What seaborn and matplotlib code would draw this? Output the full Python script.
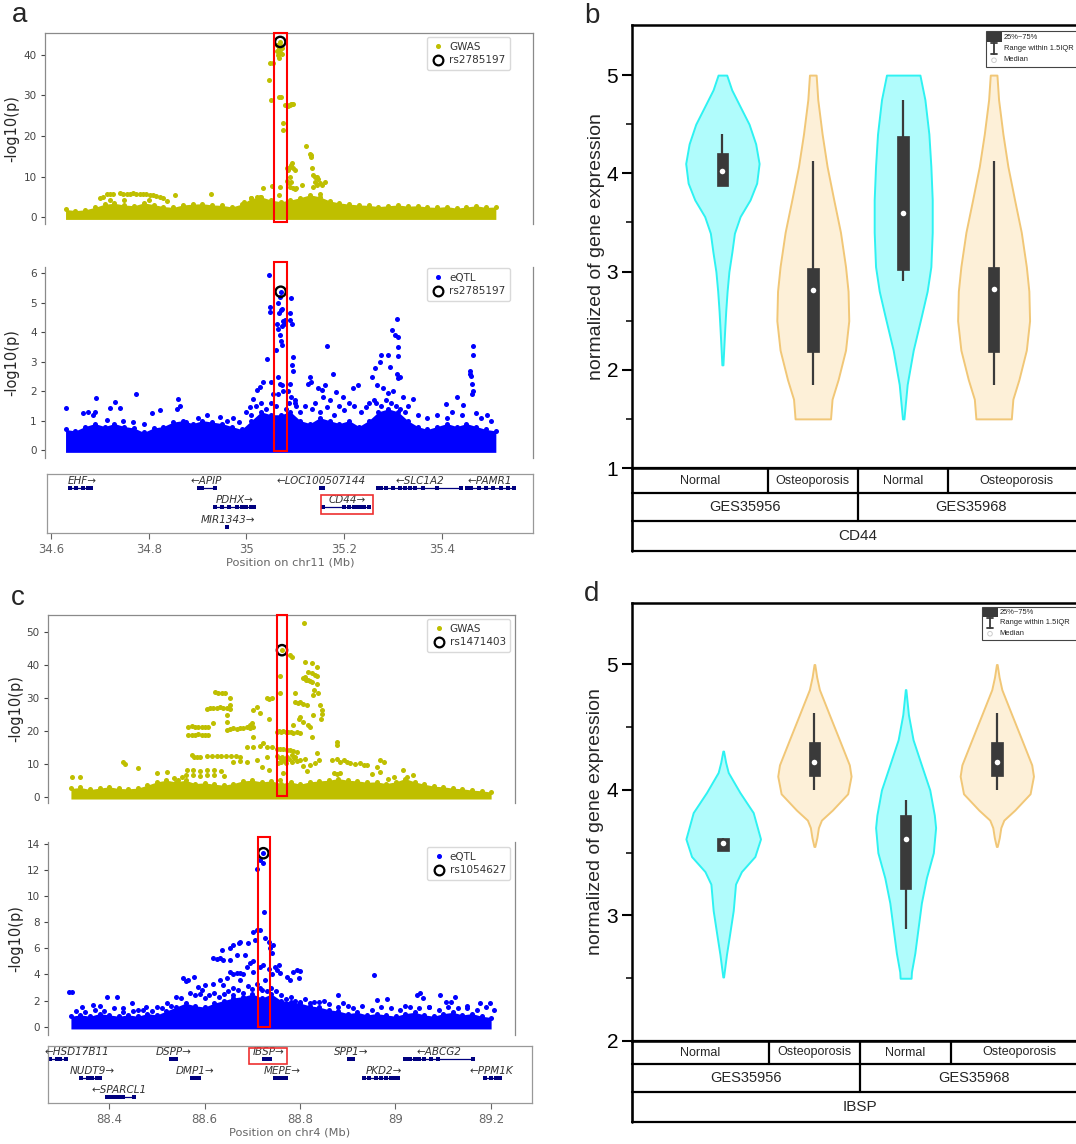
import numpy as np
import pandas as pd
import matplotlib
matplotlib.use("Agg")
import matplotlib.pyplot as plt
import seaborn as sns
from matplotlib.patches import Rectangle, Circle
from matplotlib.lines import Line2D

sns.set_style("white")
plt.rcParams['font.family'] = ['DejaVu Sans']
ARIAL = ['Liberation Sans', 'DejaVu Sans']

# ------------------------------------------------------------------ DATA
# Panel a - GWAS (chr11)
a_gwas_band_pos = [34.63, 34.65, 34.67, 34.69, 34.71, 34.73, 34.75, 34.77, 34.79, 34.81, 34.83, 34.85,
                   34.87, 34.89, 34.91, 34.93, 34.95, 34.97, 34.99, 35.01, 35.03, 35.05, 35.07, 35.09,
                   35.11, 35.13, 35.15, 35.17, 35.19, 35.21, 35.23, 35.25, 35.27, 35.29, 35.31, 35.33,
                   35.35, 35.37, 35.39, 35.41, 35.43, 35.45, 35.47, 35.49, 35.51]
a_gwas_band_top = [1.9, 1.6, 1.8, 2.4, 3.2, 3.4, 3.0, 2.8, 3.5, 3.1, 2.6, 2.4,
                   3.0, 3.2, 3.3, 3.0, 2.9, 2.5, 3.2, 4.6, 5.0, 4.2, 3.8, 4.2,
                   4.8, 5.5, 5.0, 4.0, 3.5, 3.2, 3.0, 2.9, 2.6, 2.8, 3.0, 2.7,
                   2.8, 2.5, 2.4, 2.6, 2.2, 2.5, 2.8, 2.4, 2.5]
a_gwas_pos = [35.063, 35.066, 35.070, 35.072, 35.068, 35.065, 35.067, 35.049, 35.055, 35.046,
              35.051, 35.070, 35.067, 35.075, 35.075, 35.053, 35.068, 35.066, 35.062, 35.072,
              35.079, 35.082, 35.085, 35.089, 35.092, 35.094, 35.096,
              35.082, 35.085, 35.089, 35.092, 35.094, 35.096, 35.099, 35.082, 35.086, 35.089,
              35.092, 35.089, 35.096, 35.099, 35.102, 35.113,
              35.121, 35.130, 35.132, 35.131, 35.134, 35.137, 35.140, 35.145, 35.147, 35.140,
              35.145, 35.150, 35.154, 35.160, 35.150, 35.136,
              34.700, 34.706, 34.714, 34.721, 34.727, 34.741, 34.748, 34.755, 34.762, 34.768,
              34.775, 34.782, 34.789, 34.795, 34.802, 34.809, 34.816, 34.823, 34.830, 34.721,
              34.750, 34.800, 34.837, 34.854, 34.927, 35.034, 35.021, 35.027, 35.010, 34.994]
a_gwas_p = [42.5, 41.6, 42.1, 41.8, 40.8, 40.0, 39.2, 37.9, 37.9, 33.8,
            28.9, 29.7, 29.5, 23.1, 21.5, 7.7, 7.5, 5.4, 41.0, 40.3,
            27.6, 27.7, 27.5, 27.7, 27.9, 27.8, 27.9,
            12.0, 11.6, 12.4, 12.8, 13.3, 12.0, 11.6, 9.0, 8.3, 10.0,
            8.7, 7.5, 7.2, 7.0, 7.2, 7.9,
            17.6, 15.6, 14.9, 15.3, 12.0, 10.4, 10.0, 10.0, 9.5, 8.7,
            8.0, 8.3, 7.9, 8.7, 5.8, 7.5,
            4.6, 5.0, 5.6, 5.8, 5.8, 5.9, 5.8, 5.8, 5.8, 5.9,
            5.8, 5.6, 5.6, 5.7, 5.5, 5.4, 5.3, 5.0, 4.6, 4.2,
            4.2, 4.2, 4.0, 5.5, 5.7, 7.2, 5.0, 5.0, 4.6, 3.8]
a_gwas_lead = (35.069, 43.2)

# Panel a - eQTL
a_eqtl_band_pos = a_gwas_band_pos
a_eqtl_band_top = [0.7, 0.65, 0.8, 0.9, 0.8, 0.9, 0.8, 0.75, 0.6, 0.75, 0.8, 0.95,
                   1.0, 0.9, 1.0, 0.95, 0.9, 0.8, 0.7, 1.0, 1.3, 1.2, 1.2, 1.3,
                   1.0, 0.9, 1.1, 1.0, 0.9, 1.0, 0.8, 1.0, 1.3, 1.4, 1.3, 1.0,
                   0.8, 0.7, 0.8, 0.9, 0.8, 0.9, 0.8, 0.7, 0.65]
a_eqtl_pos = [35.046, 35.049, 35.048, 35.041, 35.051, 35.055, 35.021, 35.027, 35.034, 35.014, 35.007, 35.000,
              35.065, 35.068, 35.072, 35.066, 35.070, 35.063, 35.065, 35.068, 35.072, 35.075, 35.061, 35.070,
              35.072, 35.065, 35.068, 35.072, 35.075, 35.065, 35.079, 35.077,
              35.092, 35.090, 35.089, 35.094, 35.096, 35.094, 35.095, 35.089, 35.085, 35.092, 35.099, 35.087, 35.102,
              35.130, 35.126, 35.133, 35.147, 35.154, 35.160, 35.164, 35.177, 35.157, 35.184, 35.198, 35.218,
              35.228, 35.140, 35.170, 35.190, 35.210,
              35.256, 35.263, 35.266, 35.273, 35.276, 35.290, 35.293, 35.297, 35.303, 35.307, 35.309, 35.310,
              35.309, 35.307, 35.310, 35.314, 35.300, 35.290, 35.280, 35.321, 35.341, 35.250, 35.260, 35.330,
              35.409, 35.430, 35.443, 35.457, 35.458, 35.460, 35.464, 35.464, 35.462, 35.463, 35.461, 35.470, 35.491,
              34.631, 34.666, 34.675, 34.686, 34.693, 34.690, 34.714, 34.721, 34.731, 34.741, 34.748, 34.768,
              34.775, 34.790, 34.806, 34.823, 34.860, 34.865, 34.857, 34.877, 34.900, 34.920, 34.946, 34.960,
              34.973, 34.985,
              35.010, 35.020, 35.030, 35.040, 35.050, 35.060, 35.080, 35.100, 35.110, 35.120, 35.135, 35.150,
              35.165, 35.180, 35.200, 35.220, 35.235, 35.245, 35.265, 35.275, 35.285, 35.295, 35.305, 35.315,
              35.325, 35.350, 35.370, 35.390, 35.410, 35.420, 35.440, 35.480, 35.500]
a_eqtl_p = [5.94, 4.87, 4.70, 3.11, 2.32, 1.92, 2.04, 2.15, 2.32, 1.75, 1.47, 1.30,
            5.0, 5.2, 4.8, 4.64, 4.75, 4.3, 4.1, 3.9, 4.2, 4.4, 3.40, 3.70,
            3.57, 2.49, 2.26, 2.21, 2.0, 1.9, 4.42, 4.3,
            5.15, 4.64, 4.42, 4.30, 3.17, 2.89, 2.70, 2.26, 2.0, 1.8, 1.7, 1.6, 1.5,
            2.49, 2.26, 2.3, 2.10, 2.04, 2.2, 3.53, 2.57, 1.81, 1.98, 1.81, 2.10,
            2.21, 1.6, 1.7, 1.5, 1.6,
            2.49, 2.80, 2.21, 3.0, 3.23, 3.23, 2.83, 4.08, 3.91, 4.47, 3.85, 3.5,
            3.2, 2.6, 2.45, 2.49, 2.0, 1.95, 2.1, 1.81, 1.75, 1.6, 1.7, 1.5,
            1.58, 1.81, 1.53, 2.70, 2.60, 2.50, 3.53, 3.23, 2.26, 2.0, 1.90, 1.25, 1.19,
            1.42, 1.25, 1.30, 1.2, 1.78, 1.30, 1.02, 1.42, 1.64, 1.42, 1.0, 0.96,
            1.90, 0.9, 1.25, 1.36, 1.75, 1.5, 1.4, 0.96, 1.1, 1.2, 1.13, 1.0,
            1.1, 0.95,
            1.2, 1.5, 1.6, 1.4, 1.6, 1.5, 1.4, 1.6, 1.3, 1.5, 1.4, 1.3,
            1.45, 1.2, 1.35, 1.5, 1.3, 1.45, 1.6, 1.5, 1.7, 1.6, 1.5, 1.4,
            1.3, 1.2, 1.1, 1.2, 1.1, 1.3, 1.2, 1.1, 1.0]
a_eqtl_lead = (35.070, 5.38)

# Panel c - GWAS (chr4)
c_gwas_band_pos = [88.32, 88.34, 88.36, 88.38, 88.40, 88.42, 88.44, 88.46, 88.48, 88.50, 88.52, 88.54,
                   88.56, 88.58, 88.60, 88.62, 88.64, 88.66, 88.68, 88.70, 88.72, 88.74, 88.76, 88.78,
                   88.80, 88.82, 88.84, 88.86, 88.88, 88.90, 88.92, 88.94, 88.96, 88.98, 89.00, 89.02,
                   89.04, 89.06, 89.08, 89.10, 89.12, 89.14, 89.16, 89.18, 89.20]
c_gwas_band_top = [2.5, 2.8, 2.2, 2.6, 3.0, 2.5, 2.4, 2.6, 3.5, 4.5, 5.0, 4.5,
                   5.0, 4.0, 4.2, 3.8, 3.5, 4.0, 4.8, 5.0, 4.5, 4.8, 4.0, 4.5,
                   3.8, 4.5, 4.8, 5.0, 5.5, 5.0, 4.8, 4.4, 4.5, 4.0, 4.5, 5.5,
                   4.5, 3.8, 3.2, 3.0, 2.6, 2.4, 2.0, 1.8, 1.4]
c_gwas_pos = [88.758, 88.758, 88.751, 88.755, 88.760, 88.765, 88.770, 88.775, 88.780, 88.786, 88.793, 88.800,
              88.751, 88.758, 88.765, 88.772, 88.779, 88.786, 88.793,
              88.752, 88.757, 88.762, 88.767, 88.772, 88.777, 88.782, 88.788, 88.794, 88.800, 88.754, 88.760,
              88.770, 88.783, 88.790, 88.765, 88.757,
              88.779, 88.783, 88.790, 88.795, 88.800, 88.807, 88.814, 88.790, 88.786, 88.797, 88.807, 88.812,
              88.817, 88.821, 88.824, 88.810, 88.817, 88.824, 88.831, 88.835, 88.810, 88.824, 88.835, 88.809,
              88.800, 88.807, 88.817, 88.821, 88.828, 88.830, 88.838, 88.835, 88.842, 88.845, 88.845, 88.844,
              88.828, 88.824, 88.835, 88.831, 88.810, 88.820, 88.840, 88.805, 88.814,
              88.566, 88.573, 88.580, 88.587, 88.594, 88.601, 88.608, 88.566, 88.573, 88.580, 88.587, 88.594,
              88.601, 88.608, 88.573, 88.577, 88.584, 88.591,
              88.605, 88.612, 88.618, 88.625, 88.632, 88.639, 88.646, 88.653,
              88.622, 88.629, 88.636, 88.643, 88.653, 88.646, 88.653, 88.618, 88.646,
              88.605, 88.615, 88.625, 88.635, 88.645, 88.655, 88.665, 88.674,
              88.646, 88.653, 88.660, 88.667, 88.674, 88.681, 88.688, 88.695, 88.702,
              88.660, 88.674, 88.688, 88.695, 88.699, 88.702, 88.709, 88.716, 88.688, 88.702, 88.716, 88.730,
              88.702, 88.723, 88.709, 88.720, 88.730, 88.735, 88.730, 88.734, 88.741, 88.734, 88.741,
              88.563, 88.575, 88.590, 88.605, 88.620, 88.635, 88.560, 88.575, 88.590, 88.605, 88.620, 88.640,
              88.322, 88.339, 88.430, 88.433, 88.461, 88.500, 88.521, 88.535, 88.545, 88.552,
              88.877, 88.877, 88.866, 88.877, 88.884, 88.891, 88.898, 88.905, 88.915, 88.926, 88.933, 88.940,
              88.968, 88.975, 88.961, 88.870, 88.877, 88.884, 88.968, 88.996, 89.016, 89.023, 89.037, 88.950,
              88.985]
c_gwas_p = [36.6, 31.5, 19.7, 19.9, 19.6, 19.8, 19.7, 19.5, 19.6, 19.4, 19.5, 19.3,
            14.6, 14.4, 14.5, 14.2, 14.1, 13.9, 13.6,
            12.3, 11.6, 11.9, 11.0, 12.0, 11.4, 10.6, 11.6, 10.9, 11.1, 10.2, 10.5,
            10.1, 12.6, 12.1, 7.1, 5.1,
            42.9, 42.4, 28.8, 28.3, 28.8, 28.0, 27.8, 31.3, 21.7, 23.7, 35.9, 35.4,
            35.5, 35.2, 34.8, 36.3, 37.9, 37.6, 37.0, 36.6, 40.9, 40.4, 39.4, 52.5,
            24.2, 22.7, 21.7, 21.2, 30.8, 32.3, 31.3, 34.3, 27.8, 26.3, 25.0, 23.5,
            24.7, 18.2, 13.1, 10.1, 11.5, 9.5, 11.0, 9.2, 7.8,
            21.2, 21.3, 21.2, 21.1, 21.0, 21.2, 21.0, 18.7, 18.8, 18.7, 18.9, 18.6,
            18.7, 18.6, 12.6, 12.1, 12.1, 12.0,
            26.6, 26.9, 27.0, 26.8, 27.1, 26.9, 27.0, 26.7,
            31.6, 31.5, 31.3, 31.4, 30.0, 24.7, 27.8, 22.2, 22.5,
            12.3, 12.4, 12.2, 12.3, 12.4, 12.2, 12.3, 12.1,
            20.2, 20.5, 20.7, 20.6, 20.8, 20.9, 21.0, 20.9, 21.2,
            10.6, 10.8, 10.5, 21.7, 22.2, 26.3, 27.3, 25.3, 15.2, 15.0, 15.3, 15.2,
            18.2, 16.2, 11.0, 9.0, 12.0, 8.0, 30.0, 29.5, 29.8, 23.7, 15.0,
            8.1, 8.0, 7.9, 8.1, 8.0, 7.8, 6.5, 6.6, 6.4, 6.5, 6.6, 6.3,
            6.1, 6.0, 10.5, 9.8, 8.6, 7.1, 7.6, 5.6, 5.1, 6.0,
            16.7, 15.7, 11.1, 11.5, 10.6, 11.0, 10.6, 10.1, 10.0, 10.1, 9.6, 9.6,
            11.1, 10.6, 9.1, 7.1, 7.0, 7.2, 7.6, 6.1, 8.1, 6.1, 6.5, 7.0,
            5.5]
c_gwas_lead = (88.762, 44.4)

# Panel c - eQTL
c_eqtl_band_pos = c_gwas_band_pos
c_eqtl_band_top = [0.8, 0.9, 0.8, 1.0, 0.9, 0.8, 0.9, 0.8, 1.0, 0.9, 1.2, 1.5,
                   1.8, 1.6, 1.5, 1.8, 2.0, 2.2, 2.3, 2.5, 2.2, 2.5, 2.0, 1.9,
                   1.8, 1.6, 1.5, 1.3, 1.2, 1.0, 1.1, 0.9, 1.0, 0.9, 0.8, 1.0,
                   1.1, 0.9, 0.8, 1.0, 1.1, 0.9, 1.0, 0.8, 0.7]
c_eqtl_pos = [88.709, 88.716, 88.722, 88.725, 88.716, 88.709, 88.705, 88.726, 88.723, 88.716, 88.726, 88.716, 88.730,
              88.734, 88.737, 88.741, 88.744, 88.735, 88.742, 88.748, 88.755, 88.751, 88.758, 88.772, 88.779,
              88.786, 88.793, 88.800, 88.797,
              88.618, 88.625, 88.632, 88.639, 88.636, 88.653, 88.660, 88.671, 88.674, 88.684, 88.691, 88.667,
              88.653, 88.653, 88.660, 88.667, 88.674, 88.681, 88.688, 88.695, 88.702, 88.702, 88.702, 88.674,
              88.618, 88.632, 88.639, 88.646, 88.660,
              88.555, 88.560, 88.566, 88.577, 88.587, 88.594, 88.601, 88.540,
              88.315, 88.322, 88.343, 88.367, 88.380, 88.395, 88.416, 88.447, 88.478, 88.521, 88.430, 88.460,
              88.500,
              88.880, 88.954, 88.961, 88.982, 89.044, 89.051, 89.058, 89.093, 89.125, 89.105, 89.115, 89.177,
              89.198, 89.205, 89.149, 88.850, 88.830, 88.900, 89.020, 89.070,
              88.550, 88.570, 88.580, 88.590, 88.600, 88.610, 88.620, 88.630, 88.640, 88.650, 88.660, 88.670,
              88.680, 88.690, 88.700, 88.710, 88.720, 88.740, 88.750, 88.760, 88.770, 88.780, 88.790, 88.800,
              88.810, 88.820, 88.840, 88.860, 88.880, 88.890, 88.910, 88.930, 88.950, 88.970, 88.990, 89.010,
              89.030, 89.050, 89.070, 89.090, 89.110, 89.130, 89.150, 89.170, 89.190,
              88.330, 88.350, 88.370, 88.390, 88.410, 88.430, 88.450, 88.470, 88.490, 88.510, 88.530]
c_eqtl_p = [12.06, 12.77, 12.52, 8.81, 7.41, 7.41, 6.64, 6.77, 4.73, 4.60, 3.58, 3.0, 2.7,
            6.52, 6.0, 5.62, 6.26, 4.4, 4.0, 4.6, 4.73, 4.34, 4.09, 3.83, 3.58,
            4.22, 4.34, 4.3, 3.70,
            5.24, 5.2, 5.24, 5.11, 5.88, 6.0, 6.26, 6.39, 6.52, 5.49, 6.44, 5.49,
            5.11, 4.2, 4.0, 4.1, 4.09, 4.0, 4.60, 4.85, 7.28, 5.0, 4.2, 3.58,
            3.3, 3.6, 3.2, 3.7, 3.0,
            3.70, 3.5, 3.58, 3.83, 3.07, 2.81, 3.19, 2.30,
            2.68, 2.65, 1.53, 1.66, 1.6, 2.30, 2.30, 1.79, 1.53, 1.79, 1.4, 1.3,
            1.5,
            2.43, 3.96, 2.04, 2.12, 2.43, 2.55, 2.17, 2.43, 2.30, 1.92, 1.9, 1.79,
            1.84, 1.28, 1.41, 2.0, 1.9, 1.6, 1.6, 1.5,
            2.2, 2.6, 2.4, 2.5, 2.2, 2.4, 2.6, 2.3, 2.5, 2.7, 2.4, 2.8,
            2.6, 3.1, 2.9, 3.3, 2.8, 3.0, 2.7, 2.4, 2.1, 2.3, 2.0, 1.9,
            2.1, 1.8, 1.9, 1.7, 1.5, 1.8, 1.4, 1.6, 1.3, 1.5, 1.4, 1.3,
            1.5, 1.4, 1.5, 1.3, 1.5, 1.4, 1.6, 1.3, 1.5,
            1.2, 1.1, 1.3, 1.2, 1.4, 1.1, 1.2, 1.3, 1.2, 1.4, 1.6]
c_eqtl_lead = (88.723, 13.29)

# highlight windows (x0, x1) for the red boxes
a_hl = (35.056, 35.083)
c_gwas_hl = (88.751, 88.773)
c_eqtl_hl = (88.711, 88.736)

# gene tracks
a_gene_names = ['EHF', 'APIP', 'LOC100507144', 'SLC1A2', 'PAMR1', 'PDHX', 'CD44', 'MIR1343']
a_gene_start = [34.639, 34.901, 35.152, 35.269, 35.450, 34.935, 35.156, 34.960]
a_gene_end = [34.685, 34.937, 35.157, 35.440, 35.549, 35.016, 35.252, 34.962]
a_gene_row = [1, 1, 1, 1, 1, 2, 2, 3]
a_gene_strand = [1, -1, -1, -1, -1, 1, 1, 1]
a_gene_label_x = [34.665, 34.918, 35.153, 35.355, 35.498, 34.976, 35.205, 34.963]
a_gene_exons = [[34.640, 34.652, 34.665, 34.675, 34.683], [34.902, 34.909, 34.936], [35.153, 35.156],
                [35.270, 35.275, 35.285, 35.300, 35.315, 35.325, 35.335, 35.345, 35.360, 35.390, 35.438],
                [35.452, 35.460, 35.475, 35.490, 35.505, 35.520, 35.535, 35.548],
                [34.936, 34.950, 34.965, 34.980, 34.990, 35.000, 35.010, 35.015],
                [35.157, 35.200, 35.210, 35.220, 35.225, 35.230, 35.235, 35.240, 35.250], [34.961]]
a_gene_hl = (35.152, 35.258, 1.38, 2.33)

c_gene_names = ['HSD17B11', 'DSPP', 'IBSP', 'SPP1', 'ABCG2', 'NUDT9', 'DMP1', 'MEPE', 'PKD2', 'PPM1K', 'SPARCL1']
c_gene_start = [88.275, 88.529, 88.723, 88.901, 89.018, 88.341, 88.573, 88.746, 88.933, 89.187, 88.394]
c_gene_end = [88.311, 88.540, 88.739, 88.912, 89.163, 88.381, 88.589, 88.772, 89.006, 89.219, 88.454]
c_gene_row = [1, 1, 1, 1, 1, 2, 2, 2, 2, 2, 3]
c_gene_strand = [-1, 1, 1, 1, -1, 1, 1, 1, 1, -1, -1]
c_gene_label_x = [88.332, 88.535, 88.734, 88.908, 89.091, 88.364, 88.580, 88.762, 88.975, 89.201, 88.420]
c_gene_exons = [[88.277, 88.290, 88.298, 88.310], [88.530, 88.535, 88.540], [88.725, 88.730, 88.737],
                [88.902, 88.906, 88.911],
                [89.020, 89.025, 89.030, 89.040, 89.050, 89.060, 89.075, 89.090, 89.162],
                [88.342, 88.355, 88.365, 88.375, 88.380], [88.574, 88.580, 88.588],
                [88.747, 88.755, 88.762, 88.771],
                [88.934, 88.945, 88.960, 88.970, 88.980, 88.990, 89.000, 89.005],
                [89.188, 89.200, 89.210, 89.218],
                [88.395, 88.405, 88.413, 88.420, 88.430, 88.453]]
c_gene_hl = (88.694, 88.773, 0.40, 1.27)

a_ticks = [34.6, 34.8, 35.0, 35.2, 35.4]
a_ticklabels = ['34.6', '34.8', '35', '35.2', '35.4']
c_ticks = [88.4, 88.6, 88.8, 89.0, 89.2]
c_ticklabels = ['88.4', '88.6', '88.8', '89', '89.2']

# violin panels
groups = ['Normal', 'Osteoporosis', 'Normal', 'Osteoporosis']
datasets = ['GES35956', 'GES35968']
b_gene = 'CD44'
d_gene = 'IBSP'
group_kind = ['normal', 'osteo', 'normal', 'osteo']

b_prof_y = [[2.05, 2.2, 2.4, 2.6, 2.8, 3.0, 3.2, 3.39, 3.56, 3.73, 3.9, 4.1, 4.3, 4.5, 4.68, 4.85, 5.0],
            [1.5, 1.7, 1.9, 2.2, 2.5, 2.8, 3.05, 3.4, 3.73, 4.07, 4.4, 4.75, 5.0],
            [1.5, 1.85, 2.2, 2.55, 2.8, 3.05, 3.4, 3.73, 4.07, 4.4, 4.75, 5.0],
            [1.5, 1.7, 1.9, 2.2, 2.5, 2.8, 3.05, 3.4, 3.73, 4.07, 4.4, 4.75, 5.0]]
b_prof_w = [[0.006, 0.014, 0.025, 0.037, 0.052, 0.072, 0.105, 0.133, 0.196, 0.306, 0.379, 0.406, 0.368, 0.295, 0.196, 0.103, 0.048],
            [0.196, 0.213, 0.280, 0.362, 0.398, 0.390, 0.362, 0.306, 0.232, 0.158, 0.103, 0.055, 0.037],
            [0.008, 0.044, 0.111, 0.202, 0.265, 0.306, 0.321, 0.321, 0.306, 0.284, 0.240, 0.185],
            [0.196, 0.213, 0.280, 0.362, 0.398, 0.390, 0.362, 0.306, 0.232, 0.158, 0.103, 0.055, 0.037]]
b_q1 = [3.87, 2.18, 3.02, 2.18]
b_q3 = [4.21, 3.04, 4.38, 3.05]
b_wlo = [3.87, 1.85, 2.90, 1.85]
b_whi = [4.40, 4.13, 4.75, 4.13]
b_med = [4.02, 2.81, 3.60, 2.82]

d_prof_y = [[2.51, 2.69, 2.83, 3.04, 3.25, 3.35, 3.47, 3.61, 3.82, 3.98, 4.14, 4.22, 4.31],
            [3.55, 3.62, 3.7, 3.76, 3.84, 3.97, 4.11, 4.2, 4.4, 4.6, 4.8, 4.9, 5.0],
            [2.5, 2.55, 2.7, 2.9, 3.1, 3.3, 3.5, 3.7, 3.8, 4.0, 4.2, 4.4, 4.6, 4.8],
            [3.55, 3.62, 3.7, 3.76, 3.84, 3.97, 4.11, 4.2, 4.4, 4.6, 4.8, 4.9, 5.0]]
d_prof_w = [[0.004, 0.036, 0.066, 0.110, 0.135, 0.200, 0.347, 0.409, 0.329, 0.183, 0.055, 0.027, 0.004],
            [0.005, 0.027, 0.044, 0.077, 0.197, 0.365, 0.402, 0.383, 0.274, 0.164, 0.055, 0.025, 0.004],
            [0.060, 0.064, 0.101, 0.137, 0.173, 0.228, 0.304, 0.329, 0.315, 0.265, 0.173, 0.082, 0.031, 0.003],
            [0.005, 0.027, 0.044, 0.077, 0.197, 0.365, 0.402, 0.383, 0.274, 0.164, 0.055, 0.025, 0.004]]
d_q1 = [3.51, 4.11, 3.21, 4.11]
d_q3 = [3.62, 4.38, 3.80, 4.38]
d_wlo = [3.51, 4.00, 2.89, 4.00]
d_whi = [3.62, 4.61, 3.92, 4.61]
d_med = [3.58, 4.22, 3.61, 4.22]

legend_labels = ['25%~75%', 'Range within 1.5IQR', 'Median']

# ------------------------------------------------------------------ STYLE
GWAS_C = '#bfbf00'
EQTL_C = '#0000ff'
GENE_C = '#00007f'
CYAN_F, CYAN_E = '#b0fcfc', '#2ef2f2'
ORNG_F, ORNG_E = '#fdf0d8', '#f1c777'
BOXC = '#3a3a3a'

W, H = 1076, 1144
fig = plt.figure(figsize=(W / 100, H / 100), dpi=100)
fig.patch.set_facecolor('white')


def add_ax(l, t, r, b):
    return fig.add_axes([l / W, 1 - b / H, (r - l) / W, (b - t) / H])


def manhattan(ax, xlim, ylim, yticks, band_pos, band_top, pos, val, lead, color, name, snp,
              hl, hl_y, leg_anchor, top_spine=True):
    ax.set_xlim(*xlim)
    ax.set_ylim(*ylim)
    h_px = ax.get_position().height * H
    r = 2.3 * (ylim[1] - ylim[0]) / h_px
    ax.fill_between(band_pos, -r, band_top, color=color, lw=0, zorder=1)
    df = pd.DataFrame({'pos': list(band_pos) + list(pos), 'p': list(band_top) + list(val)})
    sns.scatterplot(data=df, x='pos', y='p', color=color, s=13, linewidth=0, ax=ax, legend=False, zorder=2)
    ax.scatter([lead[0]], [lead[1]], s=13, color=color, lw=0, zorder=3)
    ax.scatter([lead[0]], [lead[1]], s=55, facecolors='none', edgecolors='black', lw=1.7, zorder=4)
    ax.add_patch(Rectangle((hl[0], hl_y[0]), hl[1] - hl[0], hl_y[1] - hl_y[0], fill=False,
                           ec='red', lw=1.5, clip_on=False, zorder=5))
    ax.set_xticks([])
    ax.set_yticks(yticks)
    ax.set_xlabel('')
    ax.set_ylabel('-log10(p)', fontsize=10.5)
    ax.yaxis.set_label_coords(-0.052, 0.5)
    ax.tick_params(axis='y', labelsize=7.5, length=3, width=0.8, colors='#444', pad=3, left=True)
    for s in ['left', 'right', 'top']:
        ax.spines[s].set_color('#8a8a8a')
        ax.spines[s].set_linewidth(0.9)
    ax.spines['bottom'].set_visible(False)
    ax.spines['top'].set_visible(top_spine)
    h1 = Line2D([], [], ls='none', marker='o', ms=2.6, mfc=color, mec=color)
    h2 = Line2D([], [], ls='none', marker='o', ms=7, mfc='none', mec='black', mew=1.6)
    leg = ax.legend([h1, h2], [name, snp], loc='upper right', bbox_to_anchor=leg_anchor, borderaxespad=0,
                    fontsize=7.5, frameon=True, fancybox=True, edgecolor='#d0d0d0', handletextpad=0.4,
                    borderpad=0.45, labelspacing=0.35, handlelength=1.3)
    for t in leg.get_texts():
        t.set_color('#333')


def track(ax, xlim, names, start, end, row, strand, labx, exons, hlbox, ticks, ticklabels, xlabel):
    ax.set_xlim(*xlim)
    ax.set_ylim(3.3, 0.3)
    for i in range(len(names)):
        ax.plot([start[i], end[i]], [row[i], row[i]], color=GENE_C, lw=0.9, solid_capstyle='butt')
        ax.plot(exons[i], [row[i]] * len(exons[i]), ls='none', marker='s', ms=2.4, color=GENE_C, mew=0)
        txt = names[i] + '\u2192' if strand[i] > 0 else '\u2190' + names[i]
        ax.text(labx[i], row[i] - 0.36, txt, ha='center', va='center', fontsize=7.5,
                style='italic', color='#333')
    ax.add_patch(Rectangle((hlbox[0], hlbox[2]), hlbox[1] - hlbox[0], hlbox[3] - hlbox[2],
                           fill=False, ec='#ee3030', lw=1.2, zorder=5))
    ax.set_yticks([])
    ax.set_xticks(ticks)
    ax.set_xticklabels(ticklabels)
    ax.tick_params(axis='x', labelsize=8.5, length=4, width=0.8, colors='#666', pad=3, bottom=True)
    ax.set_xlabel(xlabel, fontsize=8.2, color='#666', labelpad=1)
    for s in ax.spines.values():
        s.set_color('#999')
        s.set_linewidth(0.9)


def violins(ax, ylim, prof_y, prof_w, q1, q3, wlo, whi, med, yticks, yminor):
    ax.set_xlim(-1, 4)
    ax.set_ylim(*ylim)
    for i in range(4):
        ys = np.array(prof_y[i])
        ws = np.array(prof_w[i])
        if group_kind[i] == 'normal':
            fc, ec = CYAN_F, CYAN_E
        else:
            fc, ec = ORNG_F, ORNG_E
        ax.fill_betweenx(ys, i - ws, i + ws, facecolor=fc, edgecolor=ec, lw=1.4, zorder=1)
        ax.vlines(i, wlo[i], whi[i], color=BOXC, lw=1.6, zorder=2)
        ax.add_patch(Rectangle((i - 0.064, q1[i]), 0.128, q3[i] - q1[i], facecolor=BOXC,
                               edgecolor=BOXC, lw=0.5, zorder=3))
        ax.scatter([i], [med[i]], s=16, color='white', lw=0, zorder=4)
    ax.set_xticks([])
    ax.set_yticks(yticks)
    ax.set_yticks(yminor, minor=True)
    ax.set_yticklabels([str(t) for t in yticks], fontfamily=ARIAL)
    ax.tick_params(axis='y', which='major', labelsize=15, length=7, width=1.5, direction='out',
                   colors='black', left=True, pad=3)
    ax.tick_params(axis='y', which='minor', length=4, width=1.3, direction='out', left=True)
    for s in ['left', 'top', 'bottom']:
        ax.spines[s].set_color('black')
        ax.spines[s].set_linewidth(1.8)
    ax.spines['right'].set_visible(False)
    ax.set_ylabel('normalized of gene expression', fontsize=14, family=ARIAL)


def table(ax, rows, gene):
    ax.set_xlim(-1, 4)
    ax.set_ylim(rows[-1], 0)
    ax.axis('off')
    lw = 1.6
    for y in rows:
        ax.plot([-1, 4], [y, y], color='black', lw=lw, clip_on=False)
    ax.plot([-1, -1], [0, rows[-1]], color='black', lw=lw + 0.3, clip_on=False)
    for xv in [0.5, 2.5]:
        ax.plot([xv, xv], [0, rows[1]], color='black', lw=lw)
    ax.plot([1.5, 1.5], [0, rows[2]], color='black', lw=lw)
    r1 = (0 + rows[1]) / 2
    r2 = (rows[1] + rows[2]) / 2
    r3 = (rows[2] + rows[3]) / 2
    for xc, g in zip([-0.25, 1.0, 2.0, 3.25], groups):
        ax.text(xc, r1, g, ha='center', va='center', fontsize=9, family=ARIAL)
    for xc, dname in zip([0.25, 2.75], datasets):
        ax.text(xc, r2, dname, ha='center', va='center', fontsize=10.5, family=ARIAL)
    ax.text(1.5, r3, gene, ha='center', va='center', fontsize=11, family=ARIAL)


# ------------------------------------------------------------------ PANEL a
ax_a1 = add_ax(45, 33, 533, 224)
manhattan(ax_a1, (34.588, 35.586), (-1.7, 45.4), [0, 10, 20, 30, 40], a_gwas_band_pos, a_gwas_band_top,
          a_gwas_pos, a_gwas_p, a_gwas_lead, GWAS_C, 'GWAS', 'rs2785197', a_hl, (-1.15, 45.3),
          (0.953, 0.979), top_spine=True)
ax_a2 = add_ax(45, 267, 533, 458)
manhattan(ax_a2, (34.588, 35.586), (-0.27, 6.22), [0, 1, 2, 3, 4, 5, 6], a_eqtl_band_pos, a_eqtl_band_top,
          a_eqtl_pos, a_eqtl_p, a_eqtl_lead, EQTL_C, 'eQTL', 'rs2785197', a_hl, (-0.02, 6.40),
          (0.953, 0.995), top_spine=False)
ax_a3 = add_ax(47, 474, 533, 533)
track(ax_a3, (34.592, 35.586), a_gene_names, a_gene_start, a_gene_end, a_gene_row, a_gene_strand,
      a_gene_label_x, a_gene_exons, a_gene_hl, a_ticks, a_ticklabels, 'Position on chr11 (Mb)')

# ------------------------------------------------------------------ PANEL c
ax_c1 = add_ax(48, 615, 515, 803)
manhattan(ax_c1, (88.272, 89.250), (-1.9, 55.06), [0, 10, 20, 30, 40, 50], c_gwas_band_pos, c_gwas_band_top,
          c_gwas_pos, c_gwas_p, c_gwas_lead, GWAS_C, 'GWAS', 'rs1471403', c_gwas_hl, (0.2, 55.05),
          (0.99, 0.979), top_spine=True)
ax_c2 = add_ax(48, 842, 515, 1035)
manhattan(ax_c2, (88.272, 89.250), (-0.64, 14.15), [0, 2, 4, 6, 8, 10, 12, 14], c_eqtl_band_pos,
          c_eqtl_band_top, c_eqtl_pos, c_eqtl_p, c_eqtl_lead, EQTL_C, 'eQTL', 'rs1054627', c_eqtl_hl,
          (-0.05, 14.56), (0.99, 0.974), top_spine=False)
ax_c3 = add_ax(48, 1046, 532, 1103)
track(ax_c3, (88.272, 89.286), c_gene_names, c_gene_start, c_gene_end, c_gene_row, c_gene_strand,
      c_gene_label_x, c_gene_exons, c_gene_hl, c_ticks, c_ticklabels, 'Position on chr4 (Mb)')

# ------------------------------------------------------------------ PANEL b
ax_b = add_ax(632, 25, 1084, 468)
violins(ax_b, (1, 5.51), b_prof_y, b_prof_w, b_q1, b_q3, b_wlo, b_whi, b_med,
        [1, 2, 3, 4, 5], [1.5, 2.5, 3.5, 4.5])
ax_b.yaxis.set_label_coords(-0.060, 0.5)
ax_bt = add_ax(632, 468, 1084, 551)
table(ax_bt, [0, 25, 53, 83], b_gene)

# ------------------------------------------------------------------ PANEL d
ax_d = add_ax(632, 603, 1088, 1041)
violins(ax_d, (2, 5.49), d_prof_y, d_prof_w, d_q1, d_q3, d_wlo, d_whi, d_med,
        [2, 3, 4, 5], [2.5, 3.5, 4.5])
ax_d.yaxis.set_label_coords(-0.061, 0.5)
ax_dt = add_ax(632, 1041, 1088, 1122)
table(ax_dt, [0, 23, 51, 81], d_gene)

# ------------------------------------------------------------------ overlay: letters & legends
ov = fig.add_axes([0, 0, 1, 1], zorder=10)
ov.set_xlim(0, W)
ov.set_ylim(H, 0)
ov.axis('off')
ov.patch.set_alpha(0)
for x, y, s in [(20, 15, 'a'), (592, 16, 'b'), (18, 598, 'c'), (592, 594, 'd')]:
    ov.text(x, y, s, fontsize=20, ha='center', va='center', family=ARIAL)


def vlegend(x0, y0, rowh, box_w):
    ov.add_patch(Rectangle((x0, y0), box_w, rowh * 3 + 4, facecolor='white', edgecolor='#444', lw=0.8))
    ov.add_patch(Rectangle((x0 + 0.5, y0 + 0.5), 15, rowh, facecolor=BOXC, edgecolor=BOXC, lw=0))
    cx = x0 + 8
    ov.plot([cx, cx], [y0 + rowh + 1.5, y0 + 2 * rowh + 1.5], color=BOXC, lw=1.3)
    ov.plot([cx - 3, cx + 3], [y0 + 2 * rowh + 1.5] * 2, color=BOXC, lw=1.3)
    ov.plot([cx - 3, cx + 3], [y0 + rowh + 1.5] * 2, color=BOXC, lw=1.3)
    ov.add_patch(Circle((cx, y0 + 2.5 * rowh + 3), 2.3, facecolor='white', edgecolor='#ccc', lw=0.7))
    for k, lab in enumerate(legend_labels):
        ov.text(x0 + 17.5, y0 + (k + 0.5) * rowh + 1.5 * k / 2 + 1, lab, fontsize=5.4, va='center',
                ha='left', family=ARIAL, color='#222')


vlegend(986, 31, 10.5, 100)
vlegend(982, 607, 9.5, 100)

fig.savefig('out.png', dpi=100, facecolor='white')
